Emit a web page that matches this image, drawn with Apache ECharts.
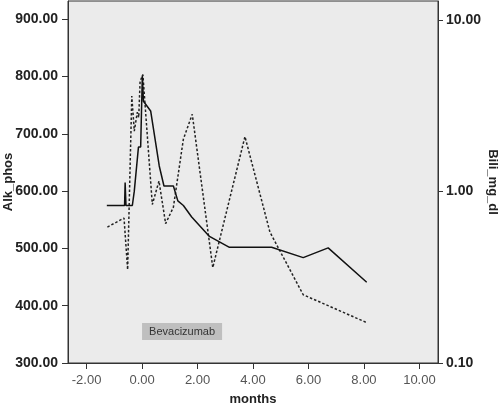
<!DOCTYPE html>
<html>
<head>
<meta charset="utf-8">
<script src="https://cdn.jsdelivr.net/npm/echarts@6/dist/echarts.min.js"></script>
</head>
<body style="margin:0;background:#fff">
<div id="chart" style="width:500px;height:406px;"></div>
<script type="text/javascript">
// Alk_phos (left axis, solid line)
var alkMonths = [-1.27, -0.63, -0.61, -0.58, -0.35, -0.28, -0.22, -0.13, -0.05, 0.01, 0.05, 0.31, 0.62, 0.79, 1.13, 1.29, 1.49, 1.79, 2.43, 3.15, 4.67, 5.81, 6.71, 8.10];
var alkValues = [575, 575, 615, 575, 575, 600, 600, 677, 677, 802, 757, 740, 644, 609, 609, 583, 575, 555, 521, 502, 502, 484, 501, 441];

// Bili_mg_dl (right log axis, dotted line)
var biliMonths = [-1.25, -0.65, -0.52, -0.37, -0.28, -0.17, -0.12, -0.07, 0.03, 0.37, 0.61, 0.85, 1.13, 1.49, 1.81, 2.55, 3.71, 4.61, 5.81, 8.10];
var biliValues = [0.62, 0.70, 0.35, 3.6, 2.25, 2.9, 2.7, 4.4, 4.8, 0.84, 1.15, 0.65, 0.81, 2.02, 2.82, 0.36, 2.09, 0.58, 0.25, 0.172];

var xTicks = [-2, 0, 2, 4, 6, 8, 10];
var alkTicks = [300, 400, 500, 600, 700, 800, 900];
var biliTicks = [0.1, 1, 10];

var noteText = 'Bevacizumab';
var noteMonth = 0;
var noteAlk = 355;

function zip(xs, ys) {
    return xs.map(function (x, i) { return [x, ys[i]]; });
}

function fmt(v) {
    return Number(v).toFixed(2);
}

var chart = echarts.init(document.getElementById('chart'));
var ink = '#222';

var option = {
    animation: false,
    backgroundColor: '#fff',
    grid: {
        left: 68, right: 62, top: 1, bottom: 43,
        outerBoundsMode: 'none',
        containLabel: false,
        show: true,
        backgroundColor: '#ebebeb',
        borderColor: '#333',
        borderWidth: 1
    },
    xAxis: {
        type: 'value',
        min: -2.67,
        max: 10.67,
        name: 'months',
        nameLocation: 'middle',
        nameGap: 30,
        nameMoveOverlap: false,
        nameTextStyle: { fontFamily: 'Liberation Sans', fontSize: 13, fontWeight: 'bold', color: ink },
        axisLine: { show: true, onZero: false, lineStyle: { color: '#333', width: 1 } },
        axisTick: { show: true, length: 6, customValues: xTicks, lineStyle: { color: '#333' } },
        axisLabel: { customValues: xTicks, formatter: fmt, margin: 11, fontFamily: 'Liberation Sans', fontSize: 13, color: '#555' },
        splitLine: { show: false }
    },
    yAxis: [{
        type: 'value',
        min: 300,
        max: 932,
        position: 'left',
        name: 'Alk_phos',
        nameLocation: 'middle',
        nameRotate: 90,
        nameGap: 53,
        nameMoveOverlap: false,
        nameTextStyle: { fontFamily: 'Liberation Sans', fontSize: 13, fontWeight: 'bold', color: ink },
        axisLine: { show: true, onZero: false, lineStyle: { color: '#333', width: 1 } },
        axisTick: { show: true, length: 6, customValues: alkTicks, lineStyle: { color: '#333' } },
        axisLabel: { customValues: alkTicks, formatter: fmt, margin: 10, fontFamily: 'Liberation Sans', fontSize: 14, fontWeight: 'bold', color: ink },
        splitLine: { show: false }
    }, {
        type: 'log',
        logBase: 10,
        min: 0.1,
        max: 12.9,
        position: 'right',
        name: 'Bili_mg_dl',
        nameLocation: 'middle',
        nameRotate: -90,
        nameGap: 48,
        nameMoveOverlap: false,
        nameTextStyle: { fontFamily: 'Liberation Sans', fontSize: 13, fontWeight: 'bold', color: ink },
        axisLine: { show: true, onZero: false, lineStyle: { color: '#333', width: 1 } },
        axisTick: { show: true, length: 5, customValues: biliTicks, lineStyle: { color: '#333' } },
        axisLabel: { customValues: biliTicks, formatter: fmt, margin: 8, fontFamily: 'Liberation Sans', fontSize: 14, fontWeight: 'bold', color: ink },
        splitLine: { show: false }
    }],
    series: [{
        name: 'Alk_phos',
        type: 'line',
        yAxisIndex: 0,
        data: zip(alkMonths, alkValues),
        showSymbol: false,
        lineStyle: { color: '#111', width: 1.5 },
        z: 3,
        markPoint: {
            symbol: 'circle',
            symbolSize: 0,
            data: [{ coord: [noteMonth, noteAlk], value: noteText }],
            label: {
                show: true,
                position: 'right',
                distance: 0,
                formatter: noteText,
                fontFamily: 'Liberation Sans',
                fontSize: 11,
                color: '#333',
                backgroundColor: '#bfbfbf',
                lineHeight: 13,
                padding: [2, 7, 2, 7]
            }
        }
    }, {
        name: 'Bili_mg_dl',
        type: 'line',
        yAxisIndex: 1,
        data: zip(biliMonths, biliValues),
        showSymbol: false,
        lineStyle: { color: '#222', width: 1.5, type: [2.5, 2] },
        z: 2
    }]
};

chart.setOption(option);
</script>
</body>
</html>
